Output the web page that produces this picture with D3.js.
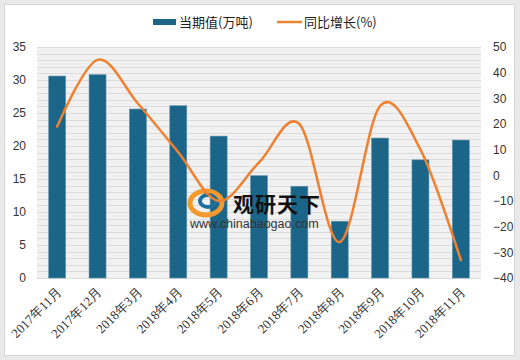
<!DOCTYPE html>
<html>
<head>
<meta charset="utf-8">
<script src="https://cdn.jsdelivr.net/npm/d3@7"></script>
<style>
  body { margin: 0; background: #e9e9e9; }
  svg { display: block; }
</style>
</head>
<body>
<script>
const months = ['2017年11月', '2017年12月', '2018年3月', '2018年4月', '2018年5月', '2018年6月',
  '2018年7月', '2018年8月', '2018年9月', '2018年10月', '2018年11月']
const output = [30.6, 30.8, 25.6, 26.1, 21.5, 15.5, 13.9, 8.6, 21.2, 17.9, 20.9]
const growth = [19, 45, 28, 9, -10, 5, 20, -26, 27, 10, -33]
const leftTicks = [0, 5, 10, 15, 20, 25, 30, 35]
const rightTicks = [-40, -30, -20, -10, 0, 10, 20, 30, 40, 50]

const w = 520
const h = 360
const plot = { left: 37, right: 481, top: 47, bottom: 278 }
const barColor = '#1b6588'
const lineColor = '#ef8130'

const svg = d3.select('body')
  .append('svg')
  .attr('width', w)
  .attr('height', h)

// frame
svg.append('rect')
  .attr('x', 4.5).attr('y', 4.5)
  .attr('width', 510).attr('height', 351)
  .attr('fill', '#fff')
  .attr('stroke', '#d6d6d6')

const x = d3.scaleBand()
  .domain(months)
  .range([plot.left, plot.right])
  .paddingInner(0.58)
  .paddingOuter(0.29)

const yLeft = d3.scaleLinear()
  .domain([0, 35])
  .range([plot.bottom, plot.top])

const yRight = d3.scaleLinear()
  .domain([-40, 50])
  .range([plot.bottom, plot.top])

// plot background with fine stripes
svg.append('rect')
  .attr('x', plot.left).attr('y', plot.top)
  .attr('width', plot.right - plot.left)
  .attr('height', plot.bottom - plot.top)
  .attr('fill', '#f1f1f1')

svg.append('g')
  .selectAll('line')
  .data(d3.range(0, 36, 1))
  .enter()
  .append('line')
  .attr('x1', plot.left)
  .attr('x2', plot.right)
  .attr('y1', d => Math.round(yLeft(d)) + 0.5)
  .attr('y2', d => Math.round(yLeft(d)) + 0.5)
  .attr('stroke', '#dcdcdc')

// bars
svg.append('g')
  .selectAll('rect')
  .data(output)
  .enter()
  .append('rect')
  .attr('x', (d, i) => x(months[i]))
  .attr('y', d => yLeft(d))
  .attr('width', x.bandwidth())
  .attr('height', d => yLeft(0) - yLeft(d))
  .attr('fill', barColor)
  .attr('stroke', '#5f94ad')
  .attr('stroke-width', 0.6)

// left axis
const leftAxis = d3.axisLeft(yLeft).tickValues(leftTicks).tickSize(0).tickPadding(0)
svg.append('g')
  .attr('transform', 'translate(26,0)')
  .call(leftAxis)
  .call(g => g.select('.domain').remove())
  .selectAll('text')
  .attr('font-family', 'Liberation Sans, Arial, sans-serif')
  .attr('font-size', 12)
  .attr('fill', '#333')

// right axis
const rightAxis = d3.axisRight(yRight).tickValues(rightTicks).tickSize(0).tickPadding(0)
  .tickFormat(d => d < 0 ? '\u2212' + Math.abs(d) : d)
svg.append('g')
  .attr('transform', 'translate(493,0)')
  .call(rightAxis)
  .call(g => g.select('.domain').remove())
  .selectAll('text')
  .attr('font-family', 'Liberation Sans, Arial, sans-serif')
  .attr('font-size', 12)
  .attr('fill', '#333')

// x labels
const xAxis = d3.axisBottom(x).tickSize(0).tickPadding(0)
svg.append('g')
  .attr('transform', `translate(0,${plot.bottom})`)
  .call(xAxis)
  .call(g => g.select('.domain').remove())
  .selectAll('text')
  .attr('font-family', 'Liberation Serif, Times New Roman, serif')
  .attr('font-size', 13)
  .attr('fill', '#333')
  .attr('text-anchor', 'end')
  .attr('dy', 0)
  .attr('transform', 'translate(5,15) rotate(-45)')

// watermark
const wm = svg.append('g')
wm.append('ellipse')
  .attr('cx', 206).attr('cy', 203).attr('rx', 16).attr('ry', 12)
  .attr('fill', 'none').attr('stroke', '#f29a2e').attr('stroke-width', 5)
wm.append('ellipse')
  .attr('cx', 208).attr('cy', 201).attr('rx', 8).attr('ry', 6)
  .attr('fill', 'none').attr('stroke', '#1f6e9c').attr('stroke-width', 4)
wm.append('text')
  .attr('x', 233).attr('y', 212)
  .attr('font-family', 'Noto Sans CJK SC, sans-serif')
  .attr('font-weight', 'bold')
  .attr('font-size', 21)
  .attr('fill', '#111')
  .attr('letter-spacing', 1)
  .text('观研天下')
wm.append('text')
  .attr('x', 190).attr('y', 228)
  .attr('font-family', 'Liberation Sans, Arial, sans-serif')
  .attr('font-size', 12.5)
  .attr('fill', '#333')
  .text('www.chinabaogao.com')

// line
const line = d3.line()
  .x((d, i) => x(months[i]) + x.bandwidth() / 2)
  .y(d => yRight(d))
  .curve(d3.curveCardinal.tension(0))

svg.append('path')
  .datum(growth)
  .attr('d', line)
  .attr('fill', 'none')
  .attr('stroke', lineColor)
  .attr('stroke-width', 2.5)
  .attr('stroke-linecap', 'round')

// legend
const legend = svg.append('g')
  .attr('font-family', 'Noto Sans CJK SC, sans-serif')
  .attr('font-size', 13)
  .attr('fill', '#222')
legend.append('rect')
  .attr('x', 153).attr('y', 19).attr('width', 23).attr('height', 6)
  .attr('fill', barColor)
legend.append('text')
  .attr('x', 179).attr('y', 27)
  .text('当期值(万吨)')
legend.append('line')
  .attr('x1', 277).attr('x2', 302).attr('y1', 22).attr('y2', 22)
  .attr('stroke', lineColor).attr('stroke-width', 2.5)
legend.append('text')
  .attr('x', 304).attr('y', 27)
  .text('同比增长(%)')
</script>
</body>
</html>
